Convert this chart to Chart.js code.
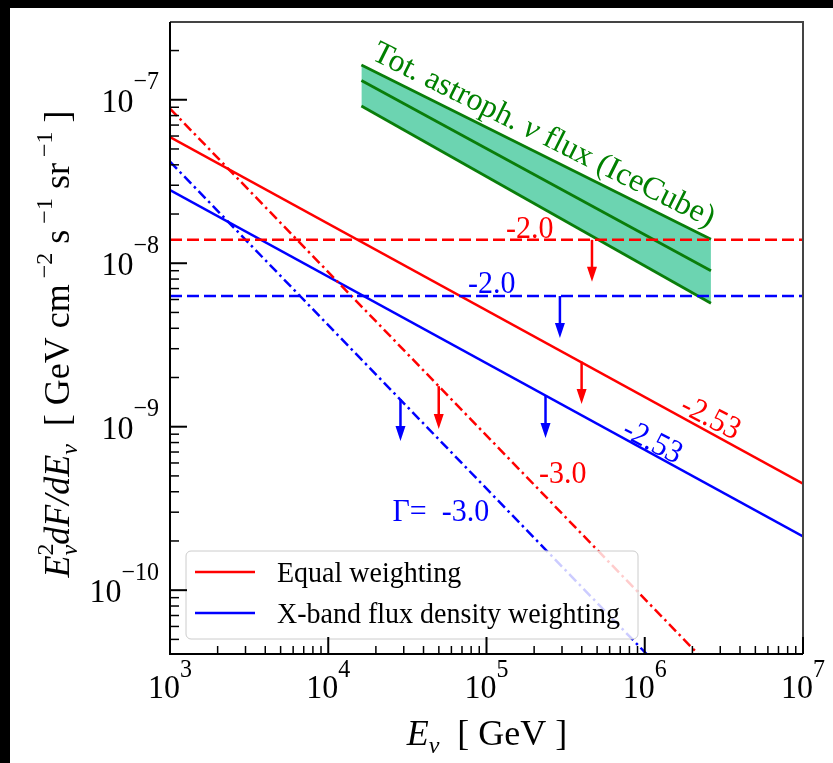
<!DOCTYPE html>
<html lang="en">
<head>
    <meta charset="UTF-8">
    <title>Neutrino flux upper limits</title>
    <script src="https://cdn.jsdelivr.net/npm/chart.js"></script>
    <style>
        body { margin: 0; background: #ffffff; }
        canvas { display: block; }
    </style>
</head>
<body>
    <canvas id="fluxChart" width="833" height="763"></canvas>

    <script>
        // Energy range of the straight power-law lines (GeV)
        var energyEnds = [1e3, 1e7];
        // Gamma = -2.53 stacked limits
        var equalSteep = [5.92e-8, 4.49e-10];
        var xbandSteep = [2.80e-8, 2.13e-10];
        // Gamma = -2.0 stacked limits
        var equalFlat = [1.39e-8, 1.39e-8];
        var xbandFlat = [6.3e-9, 6.3e-9];
        // Gamma = -3.0 stacked limits
        var equalSoft = [8.83e-8, 8.83e-12];
        var xbandSoft = [4.18e-8, 4.18e-12];

        // IceCube total astrophysical flux band
        var iceEnergy = [1.62e4, 2.62e6];
        var iceHigh = [1.63e-7, 1.40e-8];
        var iceMid = [1.31e-7, 9.0e-9];
        var iceLow = [9.15e-8, 5.69e-9];

        // Upper-limit arrows: energy, start value, tip value
        var limitEnergy = [4.64e5, 2.91e5, 3.99e5, 2.36e5, 4.99e4, 2.86e4];
        var limitFrom = [1.39e-8, 6.3e-9, 2.5e-9, 1.55e-9, 1.77e-9, 1.475e-9];
        var limitTo = [7.71e-9, 3.49e-9, 1.377e-9, 8.53e-10, 9.68e-10, 8.19e-10];
        var limitColors = ['#ff0000', '#0000ff', '#ff0000', '#0000ff', '#ff0000', '#0000ff'];

        // Decade tick labels
        var xTickExps = [3, 4, 5, 6, 7];
        var yTickExps = [-10, -9, -8, -7];

        var SERIF = '"Liberation Serif", "Times New Roman", serif';

        function pts(xs, ys) {
            return xs.map(function (x, i) { return { x: x, y: ys[i] }; });
        }

        function font(size, italic) {
            return (italic ? 'italic ' : '') + size + 'px ' + SERIF;
        }

        // Draw text made of pieces (for super/subscripts)
        function drawRich(ctx, parts, x, y, align, sy) {
            var w = 0;
            parts.forEach(function (p) {
                ctx.font = p.f;
                if (p.adv !== false) w += ctx.measureText(p.t).width;
            });
            var cx = 0;
            if (align === 'center') cx = -w / 2;
            if (align === 'right') cx = -w;
            ctx.save();
            ctx.translate(x, y);
            ctx.scale(1, sy || 1);
            ctx.textAlign = 'left';
            ctx.textBaseline = 'alphabetic';
            parts.forEach(function (p) {
                ctx.font = p.f;
                ctx.fillText(p.t, cx, p.dy || 0);
                if (p.adv !== false) cx += ctx.measureText(p.t).width;
            });
            ctx.restore();
        }

        var decorPlugin = {
            id: 'decor',
            beforeDraw: function (chart) {
                var ctx = chart.ctx;
                ctx.save();
                ctx.fillStyle = '#ffffff';
                ctx.fillRect(0, 0, chart.width, chart.height);
                // dark strips on the top and left edges of the picture
                ctx.fillStyle = '#000000';
                ctx.fillRect(0, 0, chart.width, 8);
                ctx.fillRect(0, 0, 10, chart.height);
                ctx.restore();
            },
            afterDatasetsDraw: function (chart) {
                var ctx = chart.ctx;
                var xs = chart.scales.x;
                var ys = chart.scales.y;
                var a = chart.chartArea;
                ctx.save();

                // upper-limit arrows
                limitEnergy.forEach(function (e, i) {
                    var x = xs.getPixelForValue(e);
                    var y0 = ys.getPixelForValue(limitFrom[i]);
                    var y1 = ys.getPixelForValue(limitTo[i]);
                    ctx.strokeStyle = limitColors[i];
                    ctx.fillStyle = limitColors[i];
                    ctx.lineWidth = 2.5;
                    ctx.beginPath();
                    ctx.moveTo(x, y0);
                    ctx.lineTo(x, y1 - 12);
                    ctx.stroke();
                    ctx.beginPath();
                    ctx.moveTo(x - 5, y1 - 15);
                    ctx.lineTo(x + 5, y1 - 15);
                    ctx.lineTo(x, y1);
                    ctx.closePath();
                    ctx.fill();
                });

                // legend box
                var lx = 186, ly = 551, lw = 452, lh = 88;
                ctx.beginPath();
                ctx.roundRect(lx, ly, lw, lh, 5);
                ctx.fillStyle = 'rgba(255,255,255,0.8)';
                ctx.fill();
                ctx.strokeStyle = '#cccccc';
                ctx.lineWidth = 1;
                ctx.stroke();
                var entries = chart.data.datasets.filter(function (d) { return d.label; });
                entries.forEach(function (d, i) {
                    var yy = 572 + i * 41;
                    ctx.strokeStyle = d.borderColor;
                    ctx.lineWidth = 2.5;
                    ctx.beginPath();
                    ctx.moveTo(195, yy);
                    ctx.lineTo(255, yy);
                    ctx.stroke();
                    ctx.fillStyle = '#000000';
                    drawRich(ctx, [{ t: d.label, f: font(28) }], 277, yy + 10, 'left', 1.06);
                });

                // frame
                ctx.lineWidth = 2;
                ctx.strokeStyle = '#444444';
                ctx.beginPath();
                ctx.moveTo(a.left, a.top);
                ctx.lineTo(a.right, a.top);
                ctx.lineTo(a.right, a.bottom);
                ctx.stroke();
                ctx.strokeStyle = '#000000';
                ctx.beginPath();
                ctx.moveTo(a.left, a.top);
                ctx.lineTo(a.left, a.bottom);
                ctx.lineTo(a.right, a.bottom);
                ctx.stroke();

                // inward ticks, major and minor
                var e, k, v, p;
                for (e = 3; e <= 7; e++) {
                    for (k = 1; k <= 9; k++) {
                        v = k * Math.pow(10, e);
                        if (v > xs.max * 1.0001) continue;
                        p = xs.getPixelForValue(v);
                        ctx.lineWidth = k === 1 ? 2 : 1.5;
                        ctx.beginPath();
                        ctx.moveTo(p, a.bottom);
                        ctx.lineTo(p, a.bottom - (k === 1 ? 17 : 8));
                        ctx.stroke();
                    }
                }
                for (e = -11; e <= -7; e++) {
                    for (k = 1; k <= 9; k++) {
                        v = k * Math.pow(10, e);
                        if (v < ys.min * 0.9999 || v > ys.max * 1.0001) continue;
                        p = ys.getPixelForValue(v);
                        ctx.lineWidth = k === 1 ? 2 : 1.5;
                        ctx.beginPath();
                        ctx.moveTo(a.left, p);
                        ctx.lineTo(a.left + (k === 1 ? 17 : 9), p);
                        ctx.stroke();
                    }
                }

                // tick labels
                ctx.fillStyle = '#000000';
                xTickExps.forEach(function (n) {
                    var px = xs.getPixelForValue(Math.pow(10, n));
                    drawRich(ctx, [
                        { t: '10', f: font(32) },
                        { t: String(n), f: font(24), dy: -20 }
                    ], px, 698, 'center', 1.06);
                });
                yTickExps.forEach(function (n) {
                    var py = ys.getPixelForValue(Math.pow(10, n));
                    drawRich(ctx, [
                        { t: '10', f: font(32) },
                        { t: '\u2212' + String(-n), f: font(24), dy: -21 }
                    ], 159, py + 12, 'right', 1.06);
                });

                // axis titles
                drawRich(ctx, [
                    { t: 'E', f: font(36, true) },
                    { t: '\u03bd', f: font(24, true), dy: 8 },
                    { t: '  [ GeV ]', f: font(36) }
                ], 487, 745, 'center');

                ctx.save();
                ctx.translate(69, 344);
                ctx.rotate(-Math.PI / 2);
                drawRich(ctx, [
                    { t: 'E', f: font(36, true) },
                    { t: '2', f: font(24), dy: -16, adv: false },
                    { t: '\u03bd', f: font(24, true), dy: 8 },
                    { t: 'dF/dE', f: font(36, true) },
                    { t: '\u03bd', f: font(24, true), dy: 8 },
                    { t: '  [ GeV cm', f: font(36) },
                    { t: ' \u22122', f: font(24), dy: -17 },
                    { t: ' s', f: font(36) },
                    { t: ' \u22121', f: font(24), dy: -17 },
                    { t: ' sr', f: font(36) },
                    { t: ' \u22121', f: font(24), dy: -17 },
                    { t: ' ]', f: font(36) }
                ], 0, 0, 'center');
                ctx.restore();

                // line annotations
                function note(text, xv, yv, color, angle) {
                    ctx.save();
                    ctx.translate(xs.getPixelForValue(xv), ys.getPixelForValue(yv));
                    ctx.rotate(angle * Math.PI / 180);
                    ctx.fillStyle = color;
                    drawRich(ctx, [{ t: text, f: font(30) }], 0, 10, 'center', 1.08);
                    ctx.restore();
                }
                note('-2.0', 1.877e5, 1.642e-8, '#ff0000', 0);
                note('-2.0', 1.08e5, 7.57e-9, '#0000ff', 0);
                note('-2.53', 2.62e6, 1.146e-9, '#ff0000', 27);
                note('-2.53', 1.125e6, 8.17e-10, '#0000ff', 27);
                note('-3.0', 3.03e5, 5.21e-10, '#ff0000', 0);
                note('\u0393=  -3.0', 5.14e4, 3.05e-10, '#0000ff', 0);

                // IceCube label, along the band
                ctx.save();
                ctx.translate(xs.getPixelForValue(2.17e5), ys.getPixelForValue(5.43e-8));
                ctx.rotate(26.5 * Math.PI / 180);
                ctx.fillStyle = '#008000';
                drawRich(ctx, [
                    { t: 'Tot. astroph. ', f: font(32) },
                    { t: '\u03bd', f: font(32, true) },
                    { t: ' flux (IceCube)', f: font(32) }
                ], 0, 0, 'center');
                ctx.restore();

                ctx.restore();
            }
        };

        var fluxChart = new Chart(document.getElementById('fluxChart'), {
            type: 'line',
            data: {
                datasets: [
                    // IceCube band (fill between upper and lower edge)
                    { data: pts(iceEnergy, iceHigh), borderColor: '#0a7d0a', borderWidth: 2.8,
                      backgroundColor: '#6cd4b1', fill: '+2', order: 10 },
                    { data: pts(iceEnergy, iceMid), borderColor: '#0a7d0a', borderWidth: 2.8, order: 9 },
                    { data: pts(iceEnergy, iceLow), borderColor: '#0a7d0a', borderWidth: 2.8, order: 8 },
                    { data: pts(energyEnds, equalFlat), borderColor: '#ff0000', borderWidth: 2.5, borderDash: [12, 5] },
                    { data: pts(energyEnds, xbandFlat), borderColor: '#0000ff', borderWidth: 2.5, borderDash: [12, 5] },
                    { data: pts(energyEnds, equalSoft), borderColor: '#ff0000', borderWidth: 2.5, borderDash: [10, 4, 2.5, 4] },
                    { data: pts(energyEnds, xbandSoft), borderColor: '#0000ff', borderWidth: 2.5, borderDash: [10, 4, 2.5, 4] },
                    { label: 'Equal weighting', data: pts(energyEnds, equalSteep), borderColor: '#ff0000', borderWidth: 2.5 },
                    { label: 'X-band flux density weighting', data: pts(energyEnds, xbandSteep), borderColor: '#0000ff', borderWidth: 2.5 }
                ]
            },
            options: {
                responsive: false,
                animation: false,
                devicePixelRatio: 1,
                layout: { padding: { left: 170, top: 22, right: 30, bottom: 109 } },
                elements: { point: { radius: 0 }, line: { tension: 0 } },
                scales: {
                    x: { type: 'logarithmic', min: 1e3, max: 1e7, display: false },
                    y: { type: 'logarithmic', min: 4.07e-11, max: 2.99e-7, display: false }
                },
                plugins: {
                    legend: { display: false },
                    tooltip: { enabled: false }
                }
            },
            plugins: [decorPlugin]
        });
    </script>
</body>
</html>
